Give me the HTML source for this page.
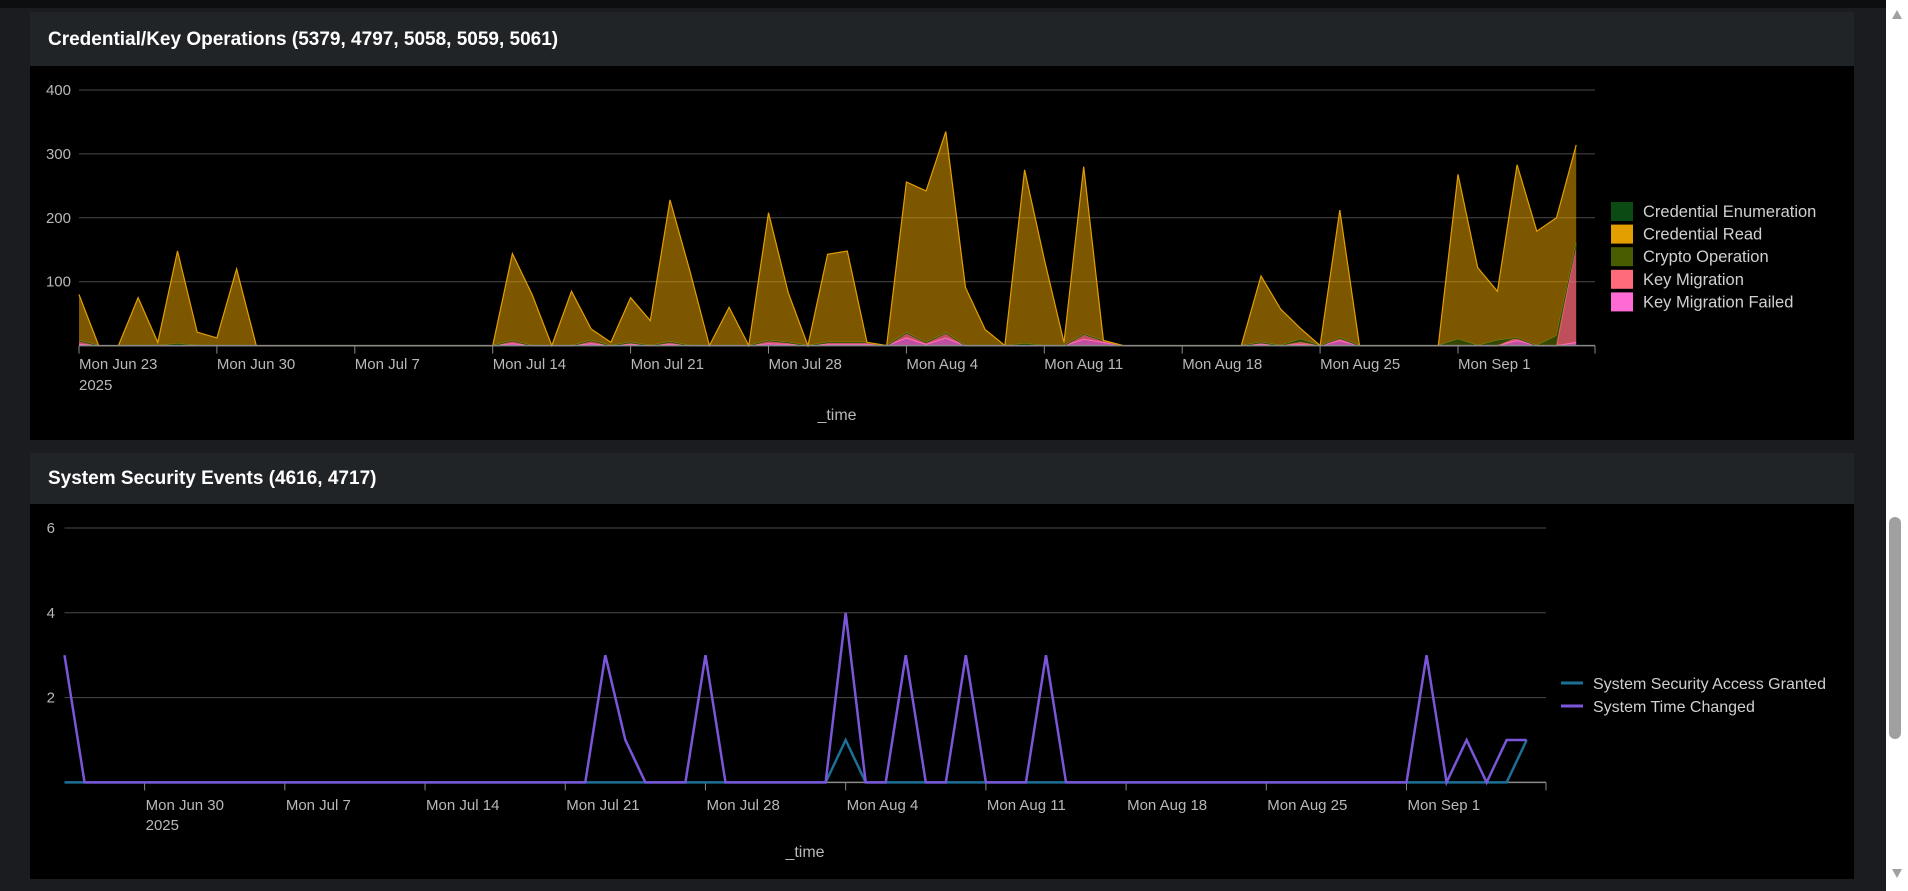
<!DOCTYPE html>
<html><head><meta charset="utf-8">
<style>
html,body{margin:0;padding:0;width:1908px;height:891px;overflow:hidden;background:#1a1c1f;font-family:"Liberation Sans",sans-serif;}
.panel{position:absolute;left:30px;width:1824px;background:#000;}
.hdr{position:absolute;left:0;top:0;width:1824px;background:#212427;color:#fff;font-weight:bold;font-size:19px;}
.hdr span{position:absolute;left:18px;}
svg{position:absolute;left:0;top:0;}
text{font-family:"Liberation Sans",sans-serif;}
</style></head><body>
<div style="position:absolute;left:0;top:0;width:1886px;height:8px;background:#0d0e10"></div>
<div class="panel" style="top:12px;height:428px;">
  <div class="hdr" style="height:54px;"><span style="top:17px;">Credential/Key Operations (5379, 4797, 5058, 5059, 5061)</span></div>
</div>
<div class="panel" style="top:453px;height:426px;">
  <div class="hdr" style="height:51px;"><span style="top:15px;">System Security Events (4616, 4717)</span></div>
</div>
<div style="position:absolute;left:1886px;top:0;width:22px;height:891px;background:#fff">
  <div style="position:absolute;left:6px;top:10px;width:0;height:0;border-left:5px solid transparent;border-right:5px solid transparent;border-bottom:9px solid #a0a0a0"></div>
  <div style="position:absolute;left:3px;top:517px;width:12px;height:222px;background:#a0a0a0;border-radius:6px"></div>
  <div style="position:absolute;left:6px;top:869px;width:0;height:0;border-left:5px solid transparent;border-right:5px solid transparent;border-top:9px solid #a0a0a0"></div>
</div>
<svg id="chart" width="1908" height="891"></svg>
<script>
// ---------- Top chart data (daily, Jun 23 -> Sep 7) ----------
const topXTicks = ["Mon Jun 23","Mon Jun 30","Mon Jul 7","Mon Jul 14","Mon Jul 21","Mon Jul 28","Mon Aug 4","Mon Aug 11","Mon Aug 18","Mon Aug 25","Mon Sep 1"];
const topYTicks = [100,200,300,400];
const credRead = [72,0,0,75,5,145,21,12,120,0, 0,0,0,0,0,0,0,0,0,0, 0,0,136,80,0,85,18,5,70,39, 222,118,0,60,0,200,78,0,138,143, 0,0,236,237,315,91,25,0,272,135, 5,262,0,0,0,0,0,0,0,0, 104,57,17,0,200,0,0,0,0,0, 258,122,77,271,179,185,154];
const credEnum = new Array(77).fill(0);
const cryptoOp = [0,0,0,0,0,3,0,0,0,0, 0,0,0,0,0,0,0,0,0,0, 0,0,0,0,0,0,0,0,0,0, 0,0,0,0,0,0,0,0,0,0, 0,0,0,0,0,0,0,0,3,0, 0,0,0,0,0,0,0,0,0,0, 0,0,5,0,0,0,0,0,0,0, 10,0,8,0,0,15,0];
const keyMig = [6,0,0,0,0,0,0,0,0,0, 0,0,0,0,0,0,0,0,0,0, 0,0,5,0,0,0,5,0,3,0, 4,0,0,0,0,5,3,0,3,3, 3,0,8,3,8,0,0,0,0,0, 0,8,3,0,0,0,0,0,0,0, 3,0,3,0,4,0,0,0,0,0, 0,0,0,4,0,0,155];
const keyFail = [2,0,0,0,0,0,0,0,0,0, 0,0,0,0,0,0,0,0,0,0, 0,0,3,0,0,0,3,0,2,0, 2,0,0,0,0,3,2,0,2,2, 2,0,12,2,12,0,0,0,0,0, 0,10,5,0,0,0,0,0,0,0, 2,0,2,0,8,0,0,0,0,0, 0,0,0,8,0,0,5];
const topSeriesNames = ["Credential Enumeration","Credential Read","Crypto Operation","Key Migration","Key Migration Failed"];
const topSeriesColors = ["#0b4a12","#e39f00","#4a5c00","#ff6b7a","#ff6ad5"];

// ---------- Bottom chart data (daily, Jun 26 -> Sep 7) ----------
const botXTicks = ["Mon Jun 30","Mon Jul 7","Mon Jul 14","Mon Jul 21","Mon Jul 28","Mon Aug 4","Mon Aug 11","Mon Aug 18","Mon Aug 25","Mon Sep 1"];
const botYTicks = [2,4,6];
const timeChanged = [3,0,0,0,0,0,0,0,0,0, 0,0,0,0,0,0,0,0,0,0, 0,0,0,0,0,0,0,3,1,0, 0,0,3,0,0,0,0,0,0,4, 0,0,3,0,0,3,0,0,0,3, 0,0,0,0,0,0,0,0,0,0, 0,0,0,0,0,0,0,0,3,0, 1,0,1,1];
const accessGranted = [0,0,0,0,0,0,0,0,0,0, 0,0,0,0,0,0,0,0,0,0, 0,0,0,0,0,0,0,0,0,0, 0,0,0,0,0,0,0,0,0,1, 0,0,0,0,0,0,0,0,0,0, 0,0,0,0,0,0,0,0,0,0, 0,0,0,0,0,0,0,0,0,0, 0,0,0,1];
const botSeriesNames = ["System Security Access Granted","System Time Changed"];
const botSeriesColors = ["#1d6f96","#7b56db"];

const svg = document.getElementById('chart');
const NS = "http://www.w3.org/2000/svg";
function mk(tag, attrs, parent){ const e=document.createElementNS(NS,tag); for(const k in attrs) e.setAttribute(k,attrs[k]); (parent||svg).appendChild(e); return e; }

// ===== Top chart =====
(function(){
  const x0=79, dayW=19.7, yBase=345.6, yTop=90, yMax=400;
  const X = d => x0 + d*dayW;
  const Y = v => yBase - v/yMax*(yBase-yTop);
  topYTicks.forEach(t=>{
    const g=mk('line',{x1:x0,x2:1595,y1:Y(t),y2:Y(t),stroke:'#4a4a4a','stroke-width':1});
     
    const l=mk('text',{x:71,y:Y(t)+5,'text-anchor':'end',fill:'#b8b8b8','font-size':15}); l.textContent=t;
     
  });
  // stacking order bottom->top
  const order=[4,3,2,0,1];
  const vals=[credEnum,credRead,cryptoOp,keyMig,keyFail];
  const n=credRead.length; let base=new Array(n).fill(0);
  order.forEach(si=>{
    const v=vals[si]; const top=base.map((b,i)=>b+v[i]);
    let d='M'+X(0)+','+Y(top[0]);
    for(let i=1;i<n;i++) d+=' L'+X(i)+','+Y(top[i]);
    for(let i=n-1;i>=0;i--) d+=' L'+X(i)+','+Y(base[i]);
    d+='Z';
    const a=mk('path',{d:d,fill:topSeriesColors[si],'fill-opacity':si===1?0.55:0.75,stroke:'none'});
    
    
    let ld='M'+X(0)+','+Y(top[0]); for(let i=1;i<n;i++) ld+=' L'+X(i)+','+Y(top[i]);
    const ln=mk('path',{d:ld,fill:'none',stroke:topSeriesColors[si],'stroke-width':1.2});
    
    
    base=top;
  });
  const ax=mk('line',{x1:x0,x2:1595,y1:yBase,y2:yBase,stroke:'#8a8a8a','stroke-width':1.5});
   
  topXTicks.forEach((t,i)=>{
    const tx=X(i*7);
    mk('line',{x1:tx,x2:tx,y1:yBase,y2:yBase+8,stroke:'#8a8a8a'});
    const l=mk('text',{x:tx,y:369,fill:'#b8b8b8','font-size':15}); l.textContent=t;
     
  });
  const lastTick=mk('line',{x1:1595,x2:1595,y1:yBase,y2:yBase+8,stroke:'#8a8a8a'});
  
  const yr=mk('text',{x:X(0),y:390,fill:'#b8b8b8','font-size':15}); yr.textContent='2025';
   
  const xt=mk('text',{x:837,y:420,fill:'#b8b8b8','font-size':16,'text-anchor':'middle'}); xt.textContent='_time';
   
  topSeriesNames.forEach((nm,i)=>{
    const yy=202+i*22.6;
    const r=mk('rect',{x:1611,y:yy,width:22,height:19,fill:topSeriesColors[i]});
     
    const t=mk('text',{x:1643,y:yy+15,fill:'#d0d0d0','font-size':16.5}); t.textContent=nm;
     
  });
})();

// ===== Bottom chart =====
(function(){
  const x0=64.5, dayW=20.03, yBase=782.4, yTop=528, yMax=6;
  const X = d => x0 + d*dayW;
  const Y = v => yBase - v/yMax*(yBase-yTop);
  botYTicks.forEach(t=>{
    const g=mk('line',{x1:x0,x2:1546,y1:Y(t),y2:Y(t),stroke:'#4a4a4a','stroke-width':1});
     
    const l=mk('text',{x:55,y:Y(t)+5,'text-anchor':'end',fill:'#b8b8b8','font-size':15}); l.textContent=t;
     
  });
  const ax=mk('line',{x1:x0,x2:1546,y1:yBase,y2:yBase,stroke:'#8a8a8a','stroke-width':1.5});
   
  botXTicks.forEach((t,i)=>{
    const tx=X(4+i*7);
    mk('line',{x1:tx,x2:tx,y1:yBase,y2:yBase+8,stroke:'#8a8a8a'});
    const l=mk('text',{x:tx+1,y:810,fill:'#b8b8b8','font-size':15}); l.textContent=t;
     
  });
  mk('line',{x1:1546,x2:1546,y1:yBase,y2:yBase+8,stroke:'#8a8a8a'});
  const yr=mk('text',{x:X(4)+1,y:830,fill:'#b8b8b8','font-size':15}); yr.textContent='2025';
   
  const xt=mk('text',{x:805,y:857,fill:'#b8b8b8','font-size':16,'text-anchor':'middle'}); xt.textContent='_time';
   
  [accessGranted,timeChanged].forEach((v,si)=>{
    let d='M'+X(0)+','+Y(v[0]); for(let i=1;i<v.length;i++) d+=' L'+X(i)+','+Y(v[i]);
    const p=mk('path',{d:d,fill:'none',stroke:botSeriesColors[si],'stroke-width':2.5,'stroke-linejoin':'miter'});
    
    
  });
  botSeriesNames.forEach((nm,i)=>{
    const yy=683+i*23;
    const r=mk('rect',{x:1561,y:yy-1.5,width:22,height:3,fill:botSeriesColors[i]});
     
    const t=mk('text',{x:1593,y:yy+6,fill:'#d0d0d0','font-size':16}); t.textContent=nm;
     
  });
})();
</script>
</body></html>
